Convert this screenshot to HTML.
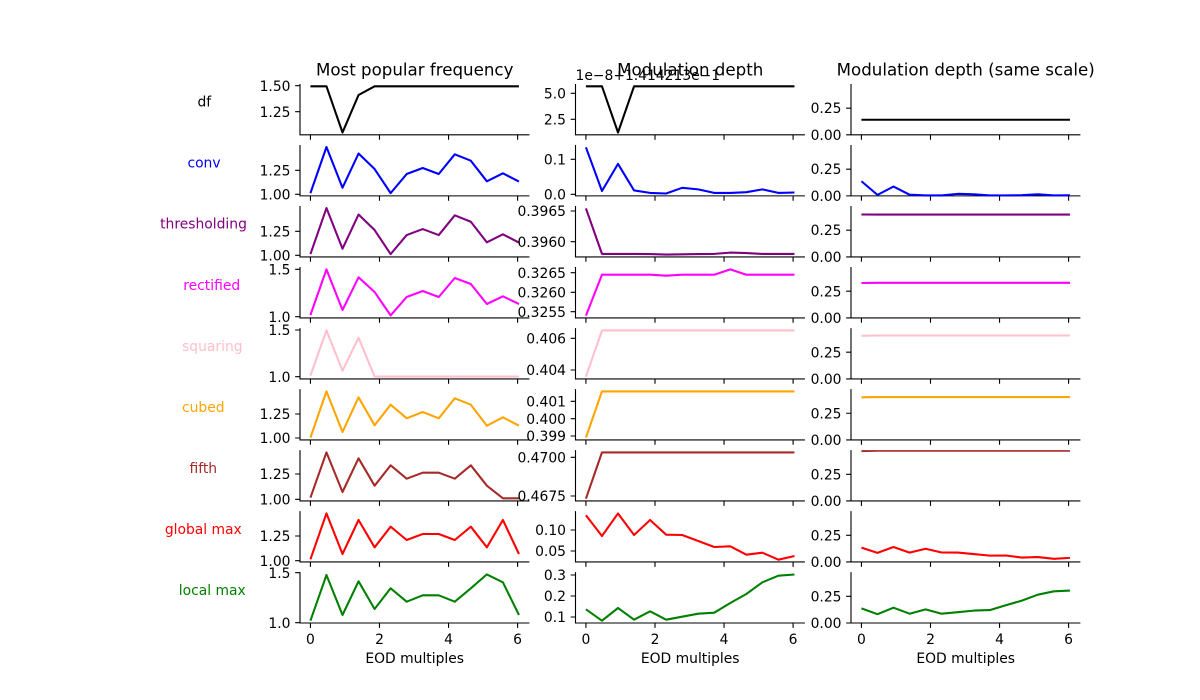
<!DOCTYPE html>
<html><head><meta charset="utf-8"><style>
html,body{margin:0;padding:0;background:#fff;}
svg{display:block;}
text{font-family:"DejaVu Sans","Liberation Sans",sans-serif;}
</style></head><body>
<svg width="1200" height="700" viewBox="0 0 1200 700" xmlns="http://www.w3.org/2000/svg">
<defs>
<path id="frame" fill="none" stroke="#000" stroke-width="1.11" d="
M300 84V134.85H529.41 M310.43 134.85v4.86 M379.49 134.85v4.86 M448.55 134.85v4.86 M517.6 134.85v4.86
M300 145.02V195.87H529.41 M310.43 195.87v4.86 M379.49 195.87v4.86 M448.55 195.87v4.86 M517.6 195.87v4.86
M300 206.04V256.89H529.41 M310.43 256.89v4.86 M379.49 256.89v4.86 M448.55 256.89v4.86 M517.6 256.89v4.86
M300 267.06V317.91H529.41 M310.43 317.91v4.86 M379.49 317.91v4.86 M448.55 317.91v4.86 M517.6 317.91v4.86
M300 328.08V378.93H529.41 M310.43 378.93v4.86 M379.49 378.93v4.86 M448.55 378.93v4.86 M517.6 378.93v4.86
M300 389.1V439.95H529.41 M310.43 439.95v4.86 M379.49 439.95v4.86 M448.55 439.95v4.86 M517.6 439.95v4.86
M300 450.12V500.97H529.41 M310.43 500.97v4.86 M379.49 500.97v4.86 M448.55 500.97v4.86 M517.6 500.97v4.86
M300 511.14V561.99H529.41 M310.43 561.99v4.86 M379.49 561.99v4.86 M448.55 561.99v4.86 M517.6 561.99v4.86
M300 572.16V623H529.41 M310.43 623v4.86 M379.49 623v4.86 M448.55 623v4.86 M517.6 623v4.86"/>
<clipPath id="c7" clipPathUnits="userSpaceOnUse"><rect x="300" y="450.12" width="229.41" height="50.85"/></clipPath>
</defs>

<!-- titles -->
<text x="414.7" y="75.7" font-size="16.67" text-anchor="middle">Most popular frequency</text>
<text x="690.2" y="75.7" font-size="16.67" text-anchor="middle">Modulation depth</text>
<text x="965.7" y="75.7" font-size="16.67" text-anchor="middle">Modulation depth (same scale)</text>
<text x="575.5" y="80" font-size="13.89">1e−8+1.414213e−1</text>

<!-- row labels -->
<g font-size="13.89" text-anchor="middle">
<text x="204.3" y="106.7" fill="#000000">df</text>
<text x="204" y="167.7" fill="#0000ff">conv</text>
<text x="203.5" y="228.7" fill="#800080">thresholding</text>
<text x="211.7" y="289.8" fill="#ff00ff">rectified</text>
<text x="212.3" y="350.8" fill="#ffc0cb">squaring</text>
<text x="203.3" y="411.8" fill="#ffa500">cubed</text>
<text x="203.3" y="472.8" fill="#a52a2a">fifth</text>
<text x="203.3" y="533.8" fill="#ff0000">global max</text>
<text x="212.3" y="594.9" fill="#008000">local max</text>
</g>

<!-- frames -->
<use href="#frame"/>
<use href="#frame" transform="translate(275.5,0)"/>
<use href="#frame" transform="translate(551,0)"/>

<!-- ===== Column 1 ===== -->
<g>
<path fill="none" stroke="#000" stroke-width="1.11" d="M295.14 85.7H300M295.14 111.7H300 M295.14 170.3H300M295.14 194.3H300 M295.14 231.3H300M295.14 255.3H300 M295.14 269.3H300M295.14 316.7H300 M295.14 330H300M295.14 376.7H300 M295.14 414H300M295.14 438H300 M295.14 474H300M295.14 499.3H300 M295.14 536H300M295.14 560.7H300 M295.14 572.7H300M295.14 622.7H300"/>
<g font-size="13.89" text-anchor="end">
<text x="290.5" y="90.75">1.50</text><text x="290.5" y="116.75">1.25</text>
<text x="290.5" y="175.35">1.25</text><text x="290.5" y="199.35">1.00</text>
<text x="290.5" y="236.35">1.25</text><text x="290.5" y="260.35">1.00</text>
<text x="290.5" y="274.35">1.5</text><text x="290.5" y="321.75">1.0</text>
<text x="290.5" y="335.05">1.5</text><text x="290.5" y="381.75">1.0</text>
<text x="290.5" y="419.05">1.25</text><text x="290.5" y="443.05">1.00</text>
<text x="290.5" y="479.05">1.25</text><text x="290.5" y="504.35">1.00</text>
<text x="290.5" y="541.05">1.25</text><text x="290.5" y="565.75">1.00</text>
<text x="290.5" y="577.75">1.5</text><text x="290.5" y="627.75">1.0</text>
</g>
<g fill="none" stroke-width="2.08" stroke-linejoin="round">
<polyline stroke="#000000" points="310.43,86.3 326.47,86.3 342.51,132.5 358.55,95 374.59,86.3 518.95,86.3"/>
<polyline stroke="#0000ff" points="310.43,193.12 326.47,147.02 342.51,187.72 358.55,153.52 374.59,169.02 390.63,193.12 406.67,174.02 422.71,168.02 438.75,174.02 454.79,154.32 470.83,160.72 486.87,181.32 502.91,173.32 518.95,181.52"/>
<polyline stroke="#800080" points="310.43,254.14 326.47,208.04 342.51,248.74 358.55,214.54 374.59,230.04 390.63,254.14 406.67,235.04 422.71,229.04 438.75,235.04 454.79,215.34 470.83,221.74 486.87,242.34 502.91,234.34 518.95,242.54"/>
<polyline stroke="#ff00ff" points="310.43,315 326.47,269.4 342.51,310 358.55,277.3 374.59,292 390.63,315.4 406.67,297 422.71,291 438.75,297 454.79,278 470.83,284 486.87,304 502.91,296.3 518.95,304"/>
<polyline stroke="#ffc0cb" points="310.43,375.6 326.47,330.4 342.51,370.7 358.55,337.7 374.59,376.6 518.95,376.6"/>
<polyline stroke="#ffa500" points="310.43,437.6 326.47,391.4 342.51,432 358.55,397.3 374.59,425.3 390.63,404.7 406.67,418.3 422.71,412 438.75,418.3 454.79,398.3 470.83,404.7 486.87,425.7 502.91,417.3 518.95,425.7"/>
<polyline stroke="#a52a2a" points="310.43,497.7 326.47,452.4 342.51,492 358.55,458.3 374.59,485.7 390.63,465.3 406.67,478.7 422.71,472.7 438.75,472.7 454.79,478.7 470.83,465.3 486.87,485.7 502.91,498.3 518.95,498.3"/>
<polyline stroke="#ff0000" points="310.43,559.3 326.47,513.4 342.51,554 358.55,520 374.59,547.3 390.63,526.7 406.67,540 422.71,534 438.75,534 454.79,540 470.83,526.7 486.87,547.3 502.91,520 518.95,554"/>
<polyline stroke="#008000" points="310.43,620.7 326.47,575 342.51,615 358.55,581.3 374.59,609 390.63,588.3 406.67,601.7 422.71,595.3 438.75,595.3 454.79,601.7 470.83,588.3 486.87,574.4 502.91,582.3 518.95,615"/>
</g>
<g font-size="13.89" text-anchor="middle">
<text x="310.43" y="644">0</text><text x="379.49" y="644">2</text><text x="448.55" y="644">4</text><text x="517.6" y="644">6</text>
<text x="414.7" y="663">EOD multiples</text>
</g>
</g>

<!-- ===== Column 2 ===== -->
<g transform="translate(275.5,0)">
<path fill="none" stroke="#000" stroke-width="1.11" d="M295.14 93.3H300M295.14 119.3H300 M295.14 159.3H300M295.14 194.3H300 M295.14 211H300M295.14 241.7H300 M295.14 272.7H300M295.14 292.3H300M295.14 311.7H300 M295.14 338.3H300M295.14 370H300 M295.14 401.3H300M295.14 418.7H300M295.14 436H300 M295.14 457.3H300M295.14 496H300 M295.14 530H300M295.14 551H300 M295.14 575H300M295.14 596H300M295.14 617H300"/>
<g font-size="13.89" text-anchor="end">
<text x="290.5" y="98.35">5.0</text><text x="290.5" y="124.35">2.5</text>
<text x="290.5" y="164.35">0.1</text><text x="290.5" y="199.35">0.0</text>
<text x="290.5" y="216.05">0.3965</text><text x="290.5" y="246.75">0.3960</text>
<text x="290.5" y="277.75">0.3265</text><text x="290.5" y="297.35">0.3260</text><text x="290.5" y="316.75">0.3255</text>
<text x="290.5" y="343.35">0.406</text><text x="290.5" y="375.05">0.404</text>
<text x="290.5" y="406.35">0.401</text><text x="290.5" y="423.75">0.400</text><text x="290.5" y="441.05">0.399</text>
<text x="290.5" y="462.35">0.4700</text><text x="290.5" y="501.05">0.4675</text>
<text x="290.5" y="535.05">0.10</text><text x="290.5" y="556.05">0.05</text>
<text x="290.5" y="580.05">0.3</text><text x="290.5" y="601.05">0.2</text><text x="290.5" y="622.05">0.1</text>
</g>
<g fill="none" stroke-width="2.08" stroke-linejoin="round">
<polyline stroke="#000000" points="310.43,86.3 326.47,86.3 342.51,132.5 358.55,86.3 518.95,86.3"/>
<polyline stroke="#0000ff" points="310.43,147.3 326.47,191 342.51,163.9 358.55,190.4 374.59,192.9 390.63,193.5 406.67,187.8 422.71,189.4 438.75,192.9 454.79,192.9 470.83,192.2 486.87,189.4 502.91,192.9 518.95,192.5"/>
<polyline stroke="#800080" points="310.43,208.35 326.47,253.9 342.51,253.9 358.55,253.9 374.59,254.1 390.63,254.6 406.67,254.3 422.71,254.1 438.75,253.9 454.79,252.6 470.83,253.1 486.87,253.9 502.91,253.9 518.95,253.9"/>
<polyline stroke="#ff00ff" points="310.43,315.6 326.47,274.7 342.51,274.7 358.55,274.7 374.59,274.7 390.63,275.7 406.67,274.7 422.71,274.7 438.75,274.7 454.79,269.4 470.83,274.7 486.87,274.7 502.91,274.7 518.95,274.7"/>
<polyline stroke="#ffc0cb" points="310.43,376.6 326.47,330.4 518.95,330.4"/>
<polyline stroke="#ffa500" points="310.43,437.6 326.47,391.4 518.95,391.4"/>
<polyline stroke="#a52a2a" points="310.43,498.7 326.47,452.4 518.95,452.4"/>
<polyline stroke="#ff0000" points="310.43,515.3 326.47,536 342.51,513.45 358.55,535 374.59,520 390.63,534.7 406.67,535 422.71,541 438.75,547 454.79,546.3 470.83,554.7 486.87,552.7 502.91,559.7 518.95,556"/>
<polyline stroke="#008000" points="310.43,609.3 326.47,620.7 342.51,608 358.55,619.7 374.59,611.3 390.63,619.7 406.67,616.7 422.71,613.7 438.75,612.7 454.79,603 470.83,594 486.87,582.3 502.91,575.7 518.95,574.5"/>
</g>
<g font-size="13.89" text-anchor="middle">
<text x="310.43" y="644">0</text><text x="379.49" y="644">2</text><text x="448.55" y="644">4</text><text x="517.6" y="644">6</text>
<text x="414.7" y="663">EOD multiples</text>
</g>
</g>

<!-- ===== Column 3 ===== -->
<g transform="translate(551,0)">
<path fill="none" stroke="#000" stroke-width="1.11" d="M295.14 108.15H300M295.14 134.85H300 M295.14 169.17H300M295.14 195.87H300 M295.14 230.19H300M295.14 256.89H300 M295.14 291.21H300M295.14 317.91H300 M295.14 352.23H300M295.14 378.93H300 M295.14 413.25H300M295.14 439.95H300 M295.14 474.27H300M295.14 500.97H300 M295.14 535.29H300M295.14 561.99H300 M295.14 596.3H300M295.14 623H300"/>
<g font-size="13.89" text-anchor="end">
<text x="290.5" y="113.2">0.25</text><text x="290.5" y="139.9">0.00</text>
<text x="290.5" y="174.22">0.25</text><text x="290.5" y="200.92">0.00</text>
<text x="290.5" y="235.24">0.25</text><text x="290.5" y="261.94">0.00</text>
<text x="290.5" y="296.26">0.25</text><text x="290.5" y="322.96">0.00</text>
<text x="290.5" y="357.28">0.25</text><text x="290.5" y="383.98">0.00</text>
<text x="290.5" y="418.3">0.25</text><text x="290.5" y="445">0.00</text>
<text x="290.5" y="479.32">0.25</text><text x="290.5" y="506.02">0.00</text>
<text x="290.5" y="540.34">0.25</text><text x="290.5" y="567.04">0.00</text>
<text x="290.5" y="601.35">0.25</text><text x="290.5" y="628.05">0.00</text>
</g>
<g fill="none" stroke-width="2.08" stroke-linejoin="round">
<polyline stroke="#000000" points="310.43,119.75 518.95,119.75"/>
<polyline stroke="#0000ff" points="310.43,181.24 326.47,194.87 342.51,186.54 358.55,194.65 374.59,195.38 390.63,195.47 406.67,193.85 422.71,194.34 438.75,195.38 454.79,195.38 470.83,195.17 486.87,194.34 502.91,195.38 518.95,195.26"/>
<polyline stroke="#800080" points="310.43,214.5 326.47,214.6 518.95,214.6"/>
<polyline stroke="#ff00ff" points="310.43,283 326.47,282.8 518.95,282.8"/>
<polyline stroke="#ffc0cb" points="310.43,335.8 326.47,335.5 518.95,335.5"/>
<polyline stroke="#ffa500" points="310.43,397.35 326.47,397.1 518.95,397.1"/>
<polyline stroke="#a52a2a" clip-path="url(#c7)" points="310.43,451.07 326.47,450.77 518.95,450.77"/>
<polyline stroke="#ff0000" points="310.43,547.59 326.47,552.84 342.51,546.99 358.55,552.59 374.59,548.79 390.63,552.49 406.67,552.59 422.71,554.09 438.75,555.64 454.79,555.49 470.83,557.59 486.87,557.09 502.91,558.79 518.95,557.89"/>
<polyline stroke="#008000" points="310.43,608.4 326.47,614.2 342.51,607.7 358.55,613.7 374.59,609.4 390.63,613.7 406.67,612.2 422.71,610.6 438.75,610.1 454.79,605.2 470.83,600.6 486.87,594.7 502.91,591.3 518.95,590.6"/>
</g>
<g font-size="13.89" text-anchor="middle">
<text x="310.43" y="644">0</text><text x="379.49" y="644">2</text><text x="448.55" y="644">4</text><text x="517.6" y="644">6</text>
<text x="414.7" y="663">EOD multiples</text>
</g>
</g>
</svg>
</body></html>
